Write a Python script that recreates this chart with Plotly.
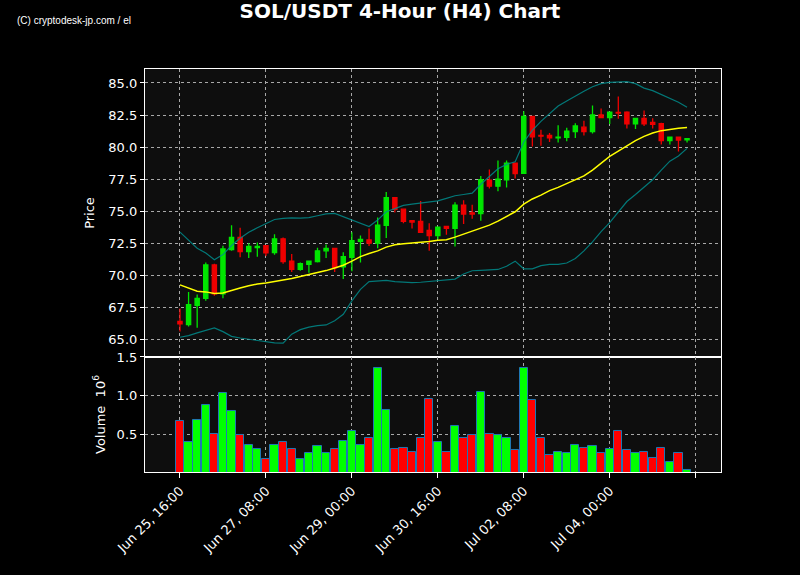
import plotly.graph_objects as go

# ---- data ----
opens = [66.4, 66.15, 67.65, 68.2, 70.8, 68.55, 72.0, 72.95, 71.85, 72.15,
         72.3, 71.77, 72.84, 71.1, 70.45, 70.85, 71.07, 71.9, 72.1, 70.65,
         71.4, 72.65, 72.75, 72.5, 73.9, 76.05, 75.15, 74.25, 74.2, 73.5,
         73.1, 73.8, 73.65, 75.47, 74.87, 74.8, 77.42, 76.95, 77.45, 78.75,
         77.95, 82.4, 80.9, 80.9, 80.72, 80.75, 81.2, 81.55, 81.2, 82.5,
         82.3, 82.7, 82.73, 81.82, 82.24, 81.92, 81.82, 80.5, 80.78, 80.57]
highs = [67.4, 68.7, 68.5, 71.0, 70.9, 72.3, 73.9, 73.7, 72.5, 72.55,
         72.35, 73.2, 72.95, 71.65, 71.0, 71.15, 72.15, 72.4, 72.15, 71.8,
         73.35, 73.1, 73.65, 74.5, 76.5, 76.1, 75.2, 74.3, 75.8, 74.05,
         73.8, 73.85, 75.7, 75.85, 75.5, 77.75, 78.25, 78.95, 78.95, 78.8,
         82.8, 82.45, 81.35, 81.1, 81.7, 81.5, 81.85, 82.05, 83.25, 83.0,
         82.75, 83.95, 82.8, 82.25, 82.85, 82.25, 81.9, 80.8, 80.8, 80.68]
lows = [65.6, 66.0, 65.9, 68.0, 68.4, 68.2, 71.9, 71.4, 71.35, 71.45,
        71.5, 71.6, 70.9, 70.25, 70.35, 70.2, 71.0, 71.35, 70.25, 69.7,
        70.3, 71.0, 72.27, 72.1, 72.9, 74.9, 74.05, 73.65, 73.3, 71.9,
        72.8, 73.15, 72.25, 74.0, 74.4, 74.25, 76.77, 76.55, 76.85, 77.55,
        77.9, 80.05, 80.1, 80.4, 80.35, 80.45, 80.7, 80.9, 81.05, 82.25,
        81.8, 82.2, 81.45, 81.4, 81.65, 81.45, 80.2, 80.2, 79.65, 80.35]
closes = [66.2, 67.7, 68.2, 70.8, 68.55, 72.05, 72.95, 71.85, 72.25, 72.25,
          71.75, 72.84, 71.07, 70.45, 70.9, 71.1, 71.9, 72.1, 70.6, 71.45,
          72.7, 72.8, 72.5, 73.9, 76.05, 75.13, 74.2, 74.15, 73.35, 73.1,
          73.75, 73.65, 75.47, 74.77, 74.77, 77.45, 76.95, 77.5, 78.75, 77.92,
          82.4, 80.8, 80.85, 80.72, 80.78, 81.25, 81.65, 81.2, 82.5, 82.3,
          82.73, 82.65, 81.82, 82.24, 81.82, 81.78, 80.5, 80.78, 80.55, 80.65]
volumes_m = [0.68, 0.41, 0.69, 0.885, 0.51, 1.04, 0.81, 0.5, 0.37, 0.32,
             0.19, 0.36, 0.4, 0.31, 0.18, 0.26, 0.35, 0.26, 0.31, 0.42,
             0.55, 0.37, 0.45, 1.36, 0.82, 0.32, 0.33, 0.27, 0.46, 0.96,
             0.41, 0.27, 0.615, 0.46, 0.5, 1.05, 0.51, 0.5, 0.45, 0.295,
             1.36, 0.95, 0.46, 0.24, 0.27, 0.26, 0.36, 0.33, 0.35, 0.26,
             0.32, 0.54, 0.295, 0.26, 0.27, 0.2, 0.33, 0.15, 0.26, 0.04]
sma20 = [69.25, 68.98, 68.75, 68.7, 68.57, 68.62, 68.83, 69.0, 69.17, 69.32,
         69.4, 69.5, 69.64, 69.74, 69.9, 70.05, 70.21, 70.36, 70.57, 70.78,
         71.1, 71.45, 71.69, 71.9, 72.19, 72.37, 72.45, 72.5, 72.55, 72.63,
         72.73, 72.76, 72.97, 73.2, 73.39, 73.65, 73.91, 74.22, 74.56, 74.95,
         75.55, 75.95, 76.25, 76.6, 76.85, 77.15, 77.45, 77.75, 78.2, 78.75,
         79.27, 79.69, 80.1, 80.5, 80.83, 81.09, 81.28, 81.38, 81.46, 81.52]
bb_upper = [73.36, 72.71, 72.11, 71.74, 71.2, 71.61, 72.32, 72.89, 73.36, 73.7,
            74.01, 74.35, 74.43, 74.48, 74.45, 74.5, 74.64, 74.79, 74.82, 74.55,
            74.3, 74.05, 73.8, 74.3, 74.95, 75.2, 75.45, 75.55, 75.65, 75.7,
            75.8, 76.0, 76.2, 76.3, 76.4, 77.1, 77.7, 78.3, 78.65, 78.85,
            80.4, 81.3, 82.0, 82.6, 83.2, 83.6, 84.0, 84.35, 84.7, 84.95,
            85.05, 85.1, 85.1, 84.95, 84.6, 84.4, 84.1, 83.75, 83.5, 83.1]
bb_lower = [65.16, 65.29, 65.5, 65.68, 65.89, 65.6, 65.23, 65.1, 65.0, 64.87,
            64.78, 64.72, 64.7, 65.4, 65.75, 65.95, 66.06, 66.12, 66.45, 66.95,
            68.0, 68.9, 69.5, 69.55, 69.6, 69.5, 69.45, 69.42, 69.45, 69.52,
            69.6, 69.65, 69.7, 70.1, 70.35, 70.38, 70.4, 70.45, 70.7, 71.1,
            70.5, 70.5, 70.75, 70.85, 70.85, 70.95, 71.3, 71.9, 72.6, 73.4,
            74.1, 74.9, 75.75, 76.3, 76.85, 77.45, 78.2, 78.9, 79.3, 79.9]
tick_idx = [0, 10, 20, 30, 40, 50, 60]
tick_labels = ["Jun 25, 16:00", "Jun 27, 08:00", "Jun 29, 00:00",
               "Jun 30, 16:00", "Jul 02, 08:00", "Jul 04, 00:00", " "]
price_ticks = [65.0, 67.5, 70.0, 72.5, 75.0, 77.5, 80.0, 82.5, 85.0]
vol_ticks = [0.5, 1.0, 1.5]

idx = list(range(len(closes)))
UP, DOWN = "#00e600", "#ee0000"
vol_colors = ["#00ff00" if c >= o else "#ff0000" for o, c in zip(opens, closes)]

fig = go.Figure()
fig.add_trace(go.Candlestick(
    x=idx, open=opens, high=highs, low=lows, close=closes,
    increasing=dict(line=dict(color=UP, width=1.3), fillcolor=UP),
    decreasing=dict(line=dict(color=DOWN, width=1.3), fillcolor=DOWN),
    xaxis="x", yaxis="y", showlegend=False, name="SOL/USDT"))
fig.add_trace(go.Scatter(x=idx, y=bb_upper, mode="lines",
                         line=dict(color="rgba(0,139,139,0.85)", width=1.2),
                         xaxis="x", yaxis="y", showlegend=False))
fig.add_trace(go.Scatter(x=idx, y=bb_lower, mode="lines",
                         line=dict(color="rgba(0,139,139,0.85)", width=1.2),
                         xaxis="x", yaxis="y", showlegend=False))
fig.add_trace(go.Scatter(x=idx, y=sma20, mode="lines",
                         line=dict(color="#ffff00", width=1.5),
                         xaxis="x", yaxis="y", showlegend=False))
fig.add_trace(go.Bar(x=idx, y=volumes_m, marker=dict(color=vol_colors,
                     line=dict(color="#1f77b4", width=1)),
                     width=0.96, xaxis="x2", yaxis="y2", showlegend=False))

xr = [-4.07, 62.95]
grid = dict(showgrid=True, gridcolor="#a8a8a8", griddash="dot", gridwidth=1)
common_x = dict(range=xr, tickvals=tick_idx, showline=True, mirror=True,
                linecolor="white", linewidth=1.2, zeroline=False, **grid)
tfont = dict(family="DejaVu Sans", size=13, color="white")

L, T = 145, 69
PW, PH = 575.7, 403
fig.update_layout(
    width=800, height=575,
    paper_bgcolor="black", plot_bgcolor="#0e0e0e",
    margin=dict(l=L, r=800 - L - PW, t=T, b=575 - T - PH),
    title=dict(text="<b>SOL/USDT 4-Hour (H4) Chart</b>", xref="container",
               x=0.5, xanchor="center",
               yref="container", y=1 - 10.5 / 575, yanchor="middle",
               font=dict(family="DejaVu Sans", size=20, color="white")),
    bargap=0,
    xaxis=dict(domain=[0, 1], anchor="y", showticklabels=False, ticks="",
               rangeslider=dict(visible=False), **common_x),
    xaxis2=dict(domain=[0, 1], anchor="y2", matches="x", ticktext=tick_labels,
                ticks="outside", ticklen=5, tickcolor="white", tickangle=-45,
                tickfont=tfont, **common_x),
    yaxis=dict(domain=[0.2854, 1], anchor="x", range=[63.62, 86.09],
               tickvals=price_ticks, tickformat=".1f", ticks="outside",
               ticklen=4, tickcolor="white", tickfont=tfont,
               title=dict(text="Price", font=tfont, standoff=10),
               showline=True, mirror=True, linecolor="white", linewidth=1.2,
               zeroline=False, **grid),
    yaxis2=dict(domain=[0, 0.2854], anchor="x2", range=[0.017, 1.5],
                tickvals=vol_ticks, tickformat=".1f", ticks="outside",
                ticklen=4, tickcolor="white", tickfont=tfont,
                title=dict(text="Volume  10<sup>6</sup>", font=tfont, standoff=8),
                showline=True, mirror=True, linecolor="white", linewidth=1.2,
                zeroline=False, **grid),
    annotations=[dict(text="(C) cryptodesk-jp.com / el", xref="paper", yref="paper",
                      x=(15 - L) / PW, y=(T + PH - 20) / PH, xanchor="left",
                      yanchor="middle", showarrow=False,
                      font=dict(family="Liberation Sans Narrow, Liberation Sans, sans-serif",
                                size=10, color="white"))],
)
fig.write_html(
    "out.html",
    config={"displayModeBar": False},
    post_script="document.body.style.margin='0';"
                "document.body.style.background='black';"
                "document.documentElement.style.background='black';",
)
